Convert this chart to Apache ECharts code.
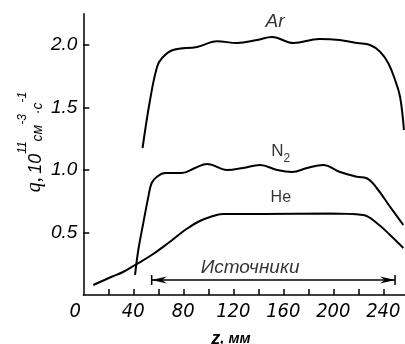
<!DOCTYPE html>
<html><head><meta charset="utf-8">
<script src="https://cdn.jsdelivr.net/npm/echarts@6/dist/echarts.min.js"></script>
<style>html,body{margin:0;padding:0;background:#fff}#c{width:405px;height:344px}</style>
</head><body><div id="c"></div>
<script>
// Data (z in mm, q in 10^11 cm^-3 s^-1)
const arZ = [47.4, 53.4, 59, 63, 71.8, 91, 107, 123, 139, 151, 168, 189, 205, 219, 229.4, 237.4, 244, 249.4, 253.4, 256.5];
const arQ = [1.176, 1.56, 1.824, 1.896, 1.96, 1.984, 2.03, 2.016, 2.04, 2.064, 2.016, 2.048, 2.04, 2.016, 2.0, 1.946, 1.854, 1.72, 1.586, 1.32];
const n2Z = [41.4, 44, 48, 52, 54.7, 58.7, 65.4, 78.7, 89.4, 99, 115, 127.8, 141.4, 155, 167, 179, 191.8, 205.4, 218.7, 226.7, 234.7, 245.4, 256];
const n2Q = [0.16, 0.36, 0.576, 0.784, 0.896, 0.944, 0.976, 0.976, 1.016, 1.048, 1.0, 1.016, 1.04, 1.0, 0.984, 1.016, 1.04, 0.984, 0.946, 0.934, 0.856, 0.706, 0.56];
const heZ = [8, 22.7, 31.8, 41.4, 54.7, 68, 81.4, 92, 101.4, 111.8, 143.8, 197.4, 223.8, 234.7, 245.4, 256];
const heQ = [0.08, 0.146, 0.184, 0.24, 0.32, 0.416, 0.52, 0.586, 0.624, 0.648, 0.648, 0.652, 0.64, 0.576, 0.48, 0.376];

const xTicks = [20, 40, 60, 80, 100, 120, 140, 160, 180, 200, 220, 240];
const xLabels = [0, 40, 80, 120, 160, 200, 240];
const yLabels = [0.5, 1.0, 1.5, 2.0];

const sourceFrom = 54.7, sourceTo = 249.4, sourceLevel = 0.12;

const noteText = ['Ar', 'N2', 'He', 'Источники'];
const noteZ = [153.4, 158, 158, 133.4];
const noteQ = [2.19, 1.13, 0.78, 0.22];

const pairs = (a, b) => a.map((v, i) => [v, b[i]]);
const FS = 'Liberation Sans';
const FN = '"Liberation Sans Narrow","DejaVu Sans Condensed","Liberation Sans"';

const noteStyles = [
  {formatter: 'Ar', fontFamily: FS, fontStyle: 'italic', fontSize: 19},
  {formatter: '{n|N}{s|2}', rich: {n: {fontFamily: FS, fontSize: 17, lineHeight: 22, verticalAlign: 'top', color: '#000'}, s: {fontFamily: FS, fontSize: 12, lineHeight: 12, verticalAlign: 'bottom', color: '#000'}}},
  {formatter: 'He', fontFamily: FS, fontSize: 16},
  {formatter: 'Источники', fontFamily: FS, fontStyle: 'italic', fontSize: 19}
];

const lineSeries = (name, z, q) => ({
  name, type: 'line', data: pairs(z, q), smooth: 0.4, showSymbol: false,
  lineStyle: {color: '#000', width: 2}, itemStyle: {color: '#000'}, z: 3
});

const chart = echarts.init(document.getElementById('c'));
chart.setOption({
  animation: false,
  backgroundColor: '#fff',
  grid: {left: 83.3, right: 0.45, top: 13.75, bottom: 49, outerBoundsMode: 'none', containLabel: false},
  xAxis: {
    type: 'value', min: 0, max: 257,
    axisLine: {show: true, onZero: false, lineStyle: {color: '#000', width: 1.5}},
    axisTick: {show: true, inside: true, length: 6, customValues: xTicks, lineStyle: {color: '#000', width: 1.5}},
    axisLabel: {
      customValues: xLabels, margin: 7, color: '#000', fontFamily: FN, fontStyle: 'italic', fontSize: 20,
      formatter: v => v === 0 ? '{o|0}' : String(v),
      rich: {o: {fontFamily: FN, fontStyle: 'italic', fontSize: 20, color: '#000', padding: [0, 16, 0, 0]}}
    },
    splitLine: {show: false},
    name: '{z|z}{m|, мм}', nameLocation: 'middle', nameGap: 35,
    nameTextStyle: {padding: [0, 26, 0, 0], rich: {
      z: {fontFamily: FS, fontStyle: 'italic', fontWeight: 'bold', fontSize: 18, color: '#000'},
      m: {fontFamily: FS, fontStyle: 'italic', fontWeight: 'bold', fontSize: 15, color: '#000'}
    }}
  },
  yAxis: {
    type: 'value', min: 0, max: 2.25,
    axisLine: {show: true, lineStyle: {color: '#000', width: 1.5}},
    axisTick: {show: true, inside: true, length: 6, customValues: yLabels, lineStyle: {color: '#000', width: 1.5}},
    axisLabel: {customValues: yLabels, margin: 6, color: '#000', fontFamily: FS, fontStyle: 'italic', fontSize: 19,
      formatter: v => v.toFixed(1)},
    splitLine: {show: false}
  },
  graphic: [{
    type: 'text', x: 31, y: 142, rotation: Math.PI / 2,
    style: {
      text: '{q|q,} {b|10}{p|11}{u|см}{p|-3}{u|·с}{p|-1}',
      align: 'center', verticalAlign: 'middle',
      rich: {
        q: {fontFamily: 'Liberation Serif', fontStyle: 'italic', fontSize: 20, lineHeight: 28, verticalAlign: 'bottom', fill: '#000'},
        b: {fontFamily: FS, fontStyle: 'italic', fontSize: 18, lineHeight: 28, verticalAlign: 'bottom', fill: '#000'},
        u: {fontFamily: FS, fontStyle: 'italic', fontSize: 14, lineHeight: 26, verticalAlign: 'bottom', fill: '#000'},
        p: {fontFamily: FS, fontStyle: 'italic', fontSize: 12, lineHeight: 12, verticalAlign: 'top', fill: '#000'}
      }
    }
  }],
  series: [
    lineSeries('Ar', arZ, arQ),
    lineSeries('N2', n2Z, n2Q),
    lineSeries('He', heZ, heQ),
    {
      type: 'custom', name: 'sources', data: [[sourceFrom, sourceTo, sourceLevel]], clip: false,
      renderItem(params, api) {
        const a = api.coord([api.value(0), api.value(2)]);
        const b = api.coord([api.value(1), api.value(2)]);
        const y = a[1], al = 15, aw = 3.5, bh = 5;
        const st = {stroke: '#000', lineWidth: 1.5};
        return {type: 'group', children: [
          {type: 'line', shape: {x1: a[0], y1: y, x2: b[0], y2: y}, style: st},
          {type: 'line', shape: {x1: a[0], y1: y - bh, x2: a[0], y2: y + bh}, style: st},
          {type: 'line', shape: {x1: b[0], y1: y - bh, x2: b[0], y2: y + bh}, style: st},
          {type: 'polygon', shape: {points: [[a[0], y], [a[0] + al, y - aw], [a[0] + al * 0.7, y], [a[0] + al, y + aw]]}, style: {fill: '#000'}},
          {type: 'polygon', shape: {points: [[b[0], y], [b[0] - al, y - aw], [b[0] - al * 0.7, y], [b[0] - al, y + aw]]}, style: {fill: '#000'}}
        ]};
      }
    },
    {
      type: 'scatter', name: 'notes', symbolSize: 0, silent: true,
      data: noteText.map((t, i) => ({
        value: [noteZ[i], noteQ[i]], name: t,
        label: Object.assign({show: true, position: 'inside', color: '#000'}, noteStyles[i])
      }))
    }
  ]
});
</script>
</body></html>
